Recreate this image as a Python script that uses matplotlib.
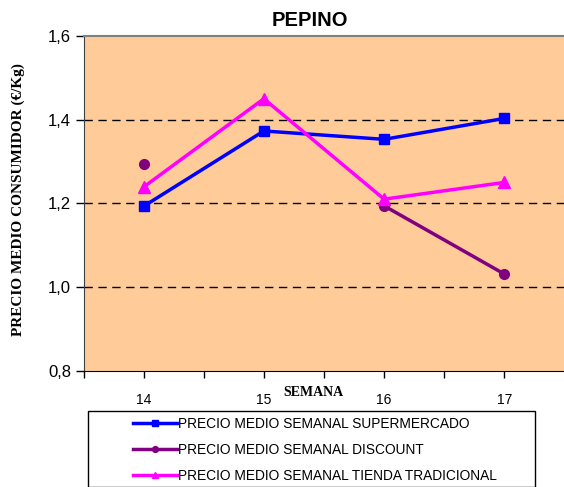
import numpy as np
import matplotlib
matplotlib.use("Agg")
import matplotlib.pyplot as plt
from matplotlib.patches import Rectangle

weeks = ["14", "15", "16", "17"]
supermercado = [1.193, 1.373, 1.353, 1.403]
discount = [1.295, np.nan, 1.194, 1.031]
tradicional = [1.239, 1.450, 1.210, 1.250]
yticks = [0.8, 1.0, 1.2, 1.4, 1.6]
ytick_labels = ["0,8", "1,0", "1,2", "1,4", "1,6"]
series_labels = ["PRECIO MEDIO SEMANAL SUPERMERCADO",
                 "PRECIO MEDIO SEMANAL DISCOUNT",
                 "PRECIO MEDIO SEMANAL TIENDA TRADICIONAL"]

W, H = 564, 487
fig = plt.figure(figsize=(W / 100, H / 100), dpi=100)
left, right, top, bottom = 83.5, 564.5, 36, 370.7
ax = fig.add_axes([left / W, 1 - bottom / H, (right - left) / W, (bottom - top) / H])
ax.set_facecolor("#FFCC99")

x = np.arange(1, 5)
ax.plot(x, supermercado, color="#0000FF", lw=2.5, marker="s", ms=7, label=series_labels[0], zorder=3)
ax.plot(x, discount, color="#800080", lw=2.5, marker="o", ms=7, label=series_labels[1], zorder=3)
ax.plot(x, tradicional, color="#FF00FF", lw=2.5, marker="^", ms=8, label=series_labels[2], zorder=4)

ax.set_xlim(0.5, 4.5)
ax.set_ylim(0.8, 1.6)
ax.set_yticks(yticks)
ax.set_yticklabels(ytick_labels, fontsize=12, family="Liberation Sans")
ax.set_xticks(x)
ax.set_xticklabels(weeks, fontsize=10, family="Liberation Sans")
ax.set_xticks([0.5, 1.5, 2.5, 3.5, 4.5], minor=True)
ax.tick_params(axis="x", which="both", direction="out", length=5, width=1, pad=11)
ax.tick_params(axis="y", direction="out", length=6, width=1, pad=3)

for yv in [1.0, 1.2, 1.4]:
    ax.axhline(yv, color="black", lw=1, ls=(0, (6, 4)), zorder=1)

ax.spines["right"].set_visible(False)
ax.spines["top"].set_color("#808080")
ax.spines["top"].set_linewidth(1.5)
ax.spines["left"].set_color("#404040")
ax.spines["bottom"].set_color("black")

fig.text(310 / W, 1 - 21 / H, "PEPINO", ha="center", va="center", fontsize=14.5,
         fontweight="bold", family="Liberation Sans")
fig.text(313 / W, 1 - 393 / H, "SEMANA", ha="center", va="center", fontsize=10,
         fontweight="bold", family="Liberation Serif")
fig.text(18 / W, 1 - 200 / H, "PRECIO MEDIO CONSUMIDOR (€/Kg)", rotation=90,
         ha="center", va="center", fontsize=11, fontweight="bold", family="Liberation Serif")

# legend box
fig.patches.append(Rectangle((88 / W, 0), (535 - 88) / W, 1 - 411 / H,
                             transform=fig.transFigure, fill=False, edgecolor="black",
                             lw=1, figure=fig))
handles, labels = ax.get_legend_handles_labels()
leg = fig.legend(handles, labels, loc="upper left", bbox_to_anchor=(133 / W, 1 - 417 / H),
                 frameon=False, prop={"family": "Liberation Sans", "size": 9.9},
                 handlelength=3.2, handletextpad=0.1, labelspacing=0.87, markerscale=0.6,
                 borderaxespad=0, borderpad=0)

fig.savefig("out.png", dpi=100)
